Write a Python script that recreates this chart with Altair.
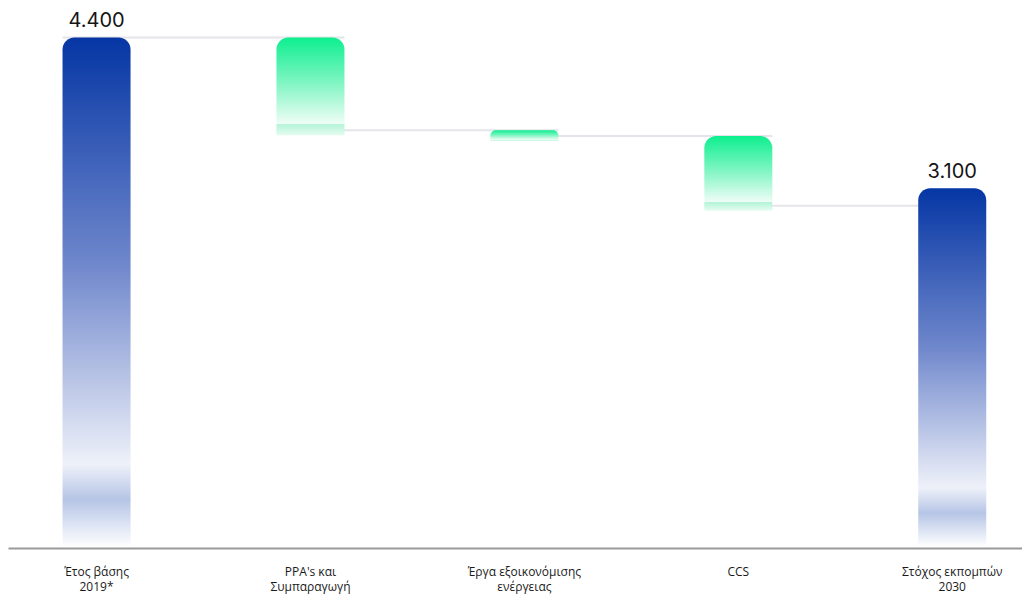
import altair as alt
import pandas as pd

# ---- data ----
categories = ["Έτος βάσης|2019*", "PPA's και|Συμπαραγωγή", "Έργα εξοικονόμισης|ενέργειας", "CCS", "Στόχος εκπομπών|2030"]
kinds = ["total", "delta", "delta", "delta", "total"]
values = [4400, -800, -50, -600, 3100]

# ---- build tables ----
bar_rows = []
levels = []
running = 0
for cat, kind, v in zip(categories, kinds, values):
    if kind == "total":
        start, end = 0, v
        running = v
        label = f"{v:,}".replace(",", ".")
    else:
        start, end = running, running + v
        running = end
        label = ""
    bar_rows.append({"cat": cat, "kind": kind, "start": start, "end": end, "label": label})
    levels.append(running)

bars = pd.DataFrame(bar_rows)
conn = pd.DataFrame({
    "cat": categories[:-1],
    "next": categories[1:],
    "level": levels[:-1],
})

xscale = alt.Scale(domain=categories, paddingInner=0.682, paddingOuter=0.211, align=0.604)
yscale = alt.Scale(domain=[0, 4654], nice=False, zero=True)
xaxis = alt.Axis(
    title=None, domain=True, domainColor="#9a9a9a", domainWidth=2, ticks=False, tickSize=0,
    grid=False, labelAngle=0, labelExpr="split(datum.label, '|')", labelFont="Open Sans",
    labelFontSize=12, labelColor="#1a1a1a", labelLineHeight=15, labelPadding=18,
    labelOverlap=False, labelBaseline="top",
)

def X(**kw):
    return alt.X("cat:N", scale=xscale, sort=categories, axis=xaxis, **kw)

blue_grad = alt.Gradient(
    gradient="linear", x1=0, y1=0, x2=0, y2=1,
    stops=[
        alt.GradientStop(offset=0.0, color="#0536a4"),
        alt.GradientStop(offset=0.45, color="#7088cc"),
        alt.GradientStop(offset=0.84, color="#eef1f9"),
        alt.GradientStop(offset=0.91, color="#b6c5e6"),
        alt.GradientStop(offset=1.0, color="#fbfcfe"),
    ],
)
green_grad = alt.Gradient(
    gradient="linear", x1=0, y1=0, x2=0, y2=1,
    stops=[
        alt.GradientStop(offset=0.0, color="#0def8f"),
        alt.GradientStop(offset=0.45, color="#7df5c2"),
        alt.GradientStop(offset=0.885, color="#effdf6"),
        alt.GradientStop(offset=0.89, color="#b4f4d8"),
        alt.GradientStop(offset=1.0, color="#e6fcf1"),
    ],
)

connectors = alt.Chart(conn).mark_rule(color="#e4e4ea", strokeWidth=2).encode(
    x=X(bandPosition=0),
    x2=alt.X2("next", bandPosition=1),
    y=alt.Y("level:Q", scale=yscale, axis=None),
)

blue = alt.Chart(bars).transform_filter("datum.kind == 'total'").mark_bar(
    color=blue_grad, cornerRadiusTopLeft=12, cornerRadiusTopRight=12, y2Offset=-3
).encode(
    x=X(),
    y=alt.Y("end:Q", scale=yscale, axis=None),
    y2="start:Q",
)

green = alt.Chart(bars).transform_filter("datum.kind == 'delta'").mark_bar(
    color=green_grad, cornerRadiusTopLeft=12, cornerRadiusTopRight=12, y2Offset=5
).encode(
    x=X(),
    y=alt.Y("start:Q", scale=yscale, axis=None),
    y2="end:Q",
)

text = alt.Chart(bars).transform_filter("datum.kind == 'total'").mark_text(
    dy=-10, baseline="alphabetic", fontSize=20, font="Inter", color="#141414"
).encode(
    x=X(),
    y=alt.Y("end:Q", scale=yscale, axis=None),
    text="label:N",
)

chart = alt.layer(connectors, blue, green, text).properties(
    width=1014, height=540,
    padding={"left": 0, "top": 0, "right": 0, "bottom": 10},
    background="white",
).configure_view(stroke=None)

chart.save("out.html", embed_options={"renderer": "svg", "actions": False})
